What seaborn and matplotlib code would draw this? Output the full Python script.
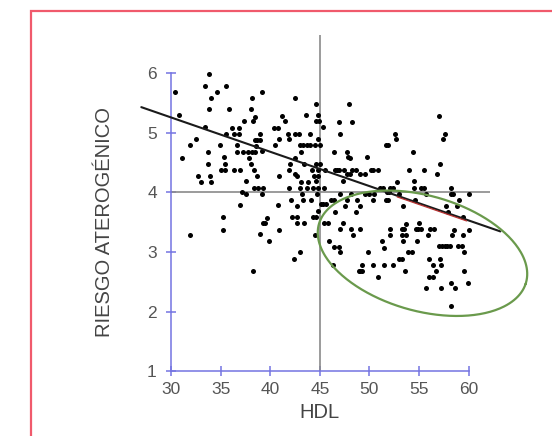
import numpy as np
import matplotlib
matplotlib.use('Agg')
import matplotlib.pyplot as plt
import seaborn as sns
from matplotlib.patches import Rectangle

# HDL vs riesgo aterogenico
hdl = [30.4, 30.8, 31.1, 31.9, 32.5, 31.9, 32.7, 33.0, 33.4, 33.8, 34.0, 33.8, 33.4, 33.7, 33.7,
       33.9, 34.0, 34.6, 34.9, 35.3, 35.4, 35.0, 35.4, 35.5, 35.8, 35.5, 36.1, 36.3, 36.3, 35.2,
       35.2, 36.8, 36.9, 36.6, 36.6, 37.0, 37.4, 37.2, 37.6, 37.0, 37.3, 37.8, 38.2, 38.5, 37.9,
       38.1, 37.6, 38.2, 38.1, 38.3, 38.5, 38.5, 38.7, 39.0, 38.6, 38.4, 38.7, 38.4, 38.3, 39.2,
       39.0, 39.2, 38.8, 39.3, 39.2, 39.0, 39.3, 39.5, 39.7, 39.9, 40.4, 40.8, 40.5, 40.9, 40.9,
       40.8, 40.9, 41.2, 41.5, 41.8, 41.9, 42.0, 41.9, 41.9, 42.1, 42.2, 42.5, 42.5, 42.5, 42.5,
       42.7, 42.7, 42.7, 42.4, 42.7, 43.0, 43.0, 43.3, 42.9, 43.1, 43.1, 43.0, 43.2, 43.3, 43.6,
       43.7, 44.0, 44.5, 43.4, 43.7, 43.8, 43.4, 44.0, 44.1, 44.2, 44.3, 44.4, 44.6, 44.6, 44.8,
       44.9, 44.8, 45.0, 44.6, 44.6, 44.8, 44.7, 44.8, 44.3, 44.6, 44.5, 44.8, 44.8, 45.0, 45.3,
       45.5, 45.4, 45.1, 45.3, 45.6, 45.4, 45.8, 45.9, 46.1, 46.4, 46.5, 46.4, 46.5, 46.4, 46.3,
       46.7, 46.9, 46.9, 47.0, 47.0, 47.0, 46.9, 47.0, 47.3, 47.3, 47.4, 47.7, 47.8, 47.9, 48.2,
       48.0, 47.7, 48.0, 47.7, 47.5, 48.1, 48.2, 48.1, 48.3, 48.6, 48.7, 48.6, 49.0, 49.0, 48.9,
       49.1, 49.3, 49.1, 49.6, 49.3, 49.8, 49.9, 49.6, 50.0, 50.2, 50.4, 50.9, 50.4, 50.5, 50.9,
       50.4, 51.3, 51.1, 51.4, 51.5, 51.7, 51.9, 51.5, 51.7, 51.9, 51.8, 52.0, 52.1, 52.4, 52.1,
       52.1, 52.4, 52.6, 52.7, 52.8, 53.0, 53.0, 53.3, 53.3, 53.4, 53.3, 53.5, 53.4, 53.6, 53.7,
       53.7, 53.9, 54.3, 54.0, 54.4, 54.5, 54.5, 54.6, 54.8, 54.7, 54.9, 55.2, 55.0, 55.2, 55.5,
       55.5, 55.7, 55.7, 55.9, 56.0, 56.4, 56.0, 56.1, 56.4, 56.5, 56.7, 56.8, 57.0, 57.3, 57.6,
       57.8, 58.1, 57.1, 57.2, 57.2, 57.1, 57.0, 57.4, 57.6, 57.7, 57.9, 58.2, 58.4, 58.2, 58.2,
       58.2, 58.6, 58.5, 58.3, 58.9, 59.3, 58.8, 59.0, 59.4, 59.4, 59.5, 59.5, 60.0, 60.0, 59.9]
riesgo = [5.68, 5.29, 4.58, 4.79, 4.89, 3.29, 4.28, 4.17, 5.79, 5.99, 5.58, 5.39, 5.09, 4.68, 4.47,
          4.28, 4.17, 5.68, 4.79, 4.59, 4.47, 4.38, 4.38, 5.79, 5.39, 4.98, 5.08, 4.98, 4.38, 3.58,
          3.37, 5.08, 4.98, 4.80, 4.68, 4.38, 5.19, 4.00, 3.98, 3.79, 4.68, 4.68, 4.68, 4.68, 4.58,
          4.47, 4.19, 5.58, 5.39, 5.19, 5.27, 4.88, 4.88, 4.88, 4.77, 4.38, 4.28, 4.07, 2.68, 5.68,
          4.98, 4.69, 4.07, 4.08, 3.97, 3.30, 3.49, 3.49, 3.57, 3.18, 5.08, 5.08, 4.79, 4.89, 4.28,
          3.79, 3.37, 5.28, 5.19, 4.98, 4.89, 4.47, 4.38, 4.08, 3.88, 3.58, 5.58, 4.98, 4.58, 4.30,
          4.28, 3.78, 3.58, 2.89, 3.49, 3.00, 4.79, 4.79, 4.98, 4.68, 4.17, 4.07, 3.97, 3.88, 5.29,
          4.79, 4.80, 4.80, 4.47, 4.07, 4.17, 3.49, 4.98, 3.88, 4.38, 4.07, 4.28, 5.48, 5.19, 5.29,
          5.19, 4.89, 4.79, 4.47, 4.19, 4.07, 3.97, 3.68, 3.58, 3.58, 3.29, 4.27, 4.38, 4.47, 5.09,
          4.38, 4.07, 3.80, 3.80, 3.80, 3.49, 3.49, 3.18, 3.88, 3.88, 3.67, 4.68, 4.38, 3.09, 2.79,
          4.38, 4.38, 5.18, 4.98, 3.97, 3.39, 3.09, 3.00, 3.49, 4.19, 4.38, 4.68, 4.59, 5.48, 5.18,
          4.58, 4.30, 4.30, 3.88, 3.78, 3.97, 4.38, 3.39, 3.29, 4.38, 3.88, 3.67, 3.78, 3.39, 2.69,
          2.69, 2.69, 4.30, 4.30, 2.79, 4.59, 3.00, 3.97, 3.97, 4.38, 4.38, 4.38, 3.88, 3.97, 2.59,
          2.79, 3.18, 4.08, 4.08, 3.07, 4.79, 4.79, 2.79, 3.88, 3.88, 4.00, 4.00, 4.08, 4.08, 3.39,
          3.29, 2.79, 4.98, 4.89, 4.17, 3.97, 2.89, 2.89, 3.29, 3.18, 3.39, 3.39, 3.78, 2.69, 3.47,
          3.29, 3.00, 3.00, 4.38, 4.68, 4.19, 4.08, 3.88, 3.18, 3.39, 3.39, 3.39, 3.49, 4.08, 4.08,
          4.38, 3.97, 2.40, 3.29, 2.59, 2.59, 2.89, 3.39, 2.79, 3.39, 2.68, 4.30, 3.10, 3.10, 3.10,
          3.10, 3.10, 2.89, 2.79, 2.40, 4.47, 5.28, 4.89, 4.98, 3.78, 3.67, 3.97, 3.97, 4.07, 2.48,
          2.09, 2.40, 3.37, 3.29, 3.10, 3.10, 3.78, 3.88, 3.58, 3.29, 3.00, 2.68, 3.97, 3.37, 2.48]

x_ticks = [30, 35, 40, 45, 50, 55, 60]
y_ticks = [1, 2, 3, 4, 5, 6]

# regression line
reg_x = [27.0, 63.2]
reg_intercept = 6.98
reg_slope = -0.0575
red_x = [52.8, 59.8]

# green ellipse (center and the two half-axis vectors, in data units)
ell_center = (55.35, 2.98)
ell_u = (10.40, -0.512)
ell_v = (-1.828, -0.917)

sns.set_style('white')
plt.rcParams['font.family'] = ['Liberation Sans', 'DejaVu Sans']

fig = plt.figure(figsize=(5.52, 4.36), dpi=100)
ax = fig.add_axes([0.247, 0.148, 0.7277, 0.7805])

axis_col = '#7474e2'
ref_col = '#8a8a8a'

# reference lines at HDL=45 and riesgo=4
ax.vlines(45, 1, 6.64, color=ref_col, lw=1.2, zorder=1)
ax.hlines(4, 30, 62.2, color=ref_col, lw=1.2, zorder=1)

sns.scatterplot(x=hdl, y=riesgo, color='black', s=13, linewidth=0, ax=ax, zorder=3)

rx = np.array(reg_x)
ax.plot(rx, reg_intercept + reg_slope * rx, color='#1a1a1a', lw=1.5, zorder=4)
rr = np.array(red_x)
ax.plot(rr, reg_intercept + reg_slope * rr - 0.02, color='#b83232', lw=0.9, zorder=5)

t = np.linspace(0, 2 * np.pi, 300)
ex = ell_center[0] + ell_u[0] * np.cos(t) + ell_v[0] * np.sin(t)
ey = ell_center[1] + ell_u[1] * np.cos(t) + ell_v[1] * np.sin(t)
ax.plot(ex, ey, color='#6a9a4c', lw=1.6, zorder=4)

ax.set_xlim(26.5, 67)
ax.set_ylim(1, 6.7)
ax.set_xticks(x_ticks)
ax.set_yticks(y_ticks)

for s in ['top', 'right']:
    ax.spines[s].set_visible(False)
ax.spines['left'].set_position(('data', 30))
ax.spines['left'].set_bounds(1, 6)
ax.spines['bottom'].set_bounds(30, 60)
for s in ['left', 'bottom']:
    ax.spines[s].set_color(axis_col)
    ax.spines[s].set_linewidth(1.1)

ax.tick_params(axis='both', bottom=True, left=True, direction='inout', length=6.5, width=1.1,
               color=axis_col, labelsize=12.5, labelcolor='#555555')
ax.tick_params(axis='x', pad=4)
ax.tick_params(axis='y', pad=7)

ax.set_xlabel('HDL', fontsize=14.5, color='#444444')
ax.set_ylabel('RIESGO ATEROGÉNICO', fontsize=14.5, color='#444444')
ax.xaxis.set_label_coords(0.455, -0.092)
ax.yaxis.set_label_coords(-0.055, 0.44)

# red frame around the figure
fig.patches.append(Rectangle((30.5 / 552, -0.1), 1.0, 1.1 - 11 / 436, transform=fig.transFigure,
                             fill=False, edgecolor='#f05a6c', lw=1.6, clip_on=False))

fig.savefig('out.png', dpi=100)
